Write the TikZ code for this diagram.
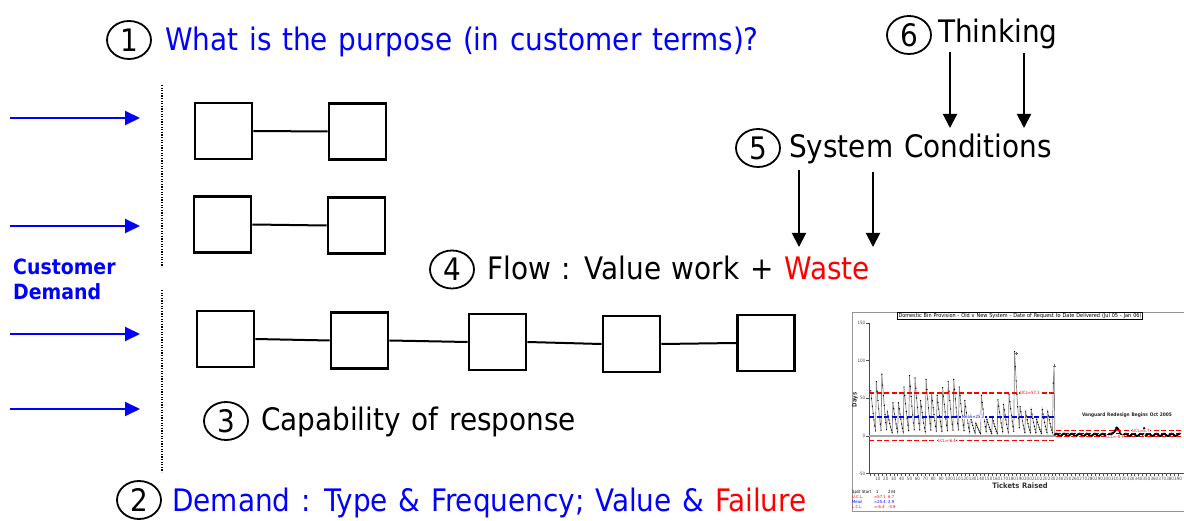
\documentclass[tikz,border=0pt]{standalone}
\usepackage{fontspec}
\setmainfont{DejaVu Sans Condensed}[WordSpace=1.22]
\usetikzlibrary{arrows.meta,shapes.geometric}
\definecolor{dblue}{RGB}{0,0,255}
\definecolor{dred}{RGB}{255,0,0}
\definecolor{framegray}{RGB}{150,150,150}
\definecolor{linegray}{RGB}{135,135,135}
% peaks of the old-system run chart (one tooth every seven tickets)
\def\peaks{58,70,80,30,42,42,63,78,75,45,73,55,52,62,70,73,63,45,25,15,52,20,22,46,40,53,110,37,30,33,20,33,30}
\begin{document}
\begin{tikzpicture}[x=1pt,y=-1pt,
  num/.style={draw, ellipse, line width=1.8pt, minimum width=44pt, minimum height=38pt,
    inner sep=0pt, font=\fontsize{31}{36}\selectfont},
  lbl/.style={anchor=base west, inner sep=0pt, font=\fontsize{31}{36}\selectfont},
  cust/.style={anchor=base west, inner sep=0pt, text=dblue, font=\fontsize{21}{25}\selectfont\bfseries},
  demand/.style={-{Triangle[length=15pt,width=14pt]}, line width=2pt, dblue},
  down/.style={-{Triangle[length=14pt,width=14pt]}, line width=2pt, black},
  stepbox/.style={draw, line width=2.6pt, minimum width=57pt, minimum height=56pt, inner sep=0pt},
  link/.style={line width=2pt},
  divider/.style={line width=1.4pt, dash pattern=on 1.3pt off 1.3pt},
  tick/.style={inner sep=0pt, font=\fontsize{4.5}{5}\selectfont, text=black!70},
  ctl/.style={line width=1.1pt, dash pattern=on 5pt off 2.5pt},
  ctllbl/.style={inner sep=0.4pt, fill=white, font=\fontsize{4.3}{5}\selectfont},
  leg/.style={anchor=base west, inner sep=0pt, font=\fontsize{4.2}{5}\selectfont},
  dataline/.style={linegray, line width=0.7pt},
]
\useasboundingbox (0,0) rectangle (1184,521);
\fill[white] (0,0) rectangle (1184,521);

% ---- customer demand arriving at the system ----
\coordinate (da1) at (10,118);  \coordinate (db1) at (140,118);
\coordinate (da2) at (10,226);  \coordinate (db2) at (140,226);
\coordinate (da3) at (10,334);  \coordinate (db3) at (140,334);
\coordinate (da4) at (10,409);  \coordinate (db4) at (140,409);
\draw[demand] (da1) -- (db1);
\draw[demand] (da2) -- (db2);
\draw[demand] (da3) -- (db3);
\draw[demand] (da4) -- (db4);
\node[cust] (cust1) at (13,275) {Customer};
\node[cust] (cust2) at (13,300) {Demand};

\coordinate (v1a) at (162,85);  \coordinate (v1b) at (162,267);
\coordinate (v2a) at (162,290); \coordinate (v2b) at (162,472);
\draw[divider] (v1a) -- (v1b);
\draw[divider] (v2a) -- (v2b);

% ---- process steps ----
\node[stepbox] (b11) at (223.5,131) {};
\node[stepbox] (b12) at (357.5,131.5) {};
\draw[link] (b11.east) -- (b12.west);

\node[stepbox] (b21) at (222.5,224.5) {};
\node[stepbox] (b22) at (356.5,225.5) {};
\draw[link] (b21.east) -- (b22.west);

\node[stepbox] (b31) at (225.5,339) {};
\node[stepbox] (b32) at (359.5,340.5) {};
\node[stepbox] (b33) at (497.5,342) {};
\node[stepbox] (b34) at (631.5,344) {};
\node[stepbox] (b35) at (766,343) {};
\draw[link] (b31.east) -- (b32.west);
\draw[link] (b32.east) -- (b33.west);
\draw[link] (b33.east) -- (b34.west);
\draw[link] (b34.east) -- (b35.west);

% ---- numbered headings ----
\node[num] (n1) at (129,40) {1};
\node[lbl, text=dblue] (t1) at (165,51) {What is the purpose (in customer terms)?};

\node[num] (n6) at (909,35) {6};
\node[lbl] (t6) at (938,43) {Thinking};

\node[num] (n5) at (758,148) {5};
\node[lbl] (t5) at (789,158) {System Conditions};

\node[num] (n4) at (452,269.5) {4};
\node[lbl] (t4) at (487,280) {Flow : Value work + \textcolor{dred}{Waste}};

\node[num] (n3) at (226,421) {3};
\node[lbl] (t3) at (261,431) {Capability of response};

\node[num] (n2) at (139,500) {2};
\node[lbl, text=dblue] (t2) at (172,511) {Demand : Type \& Frequency; Value \& \textcolor{dred}{Failure}};

% thinking drives system conditions, which drive waste
\coordinate (ta) at (950,52);   \coordinate (tb) at (950,128);
\coordinate (tc) at (1024,53);  \coordinate (td) at (1024,128);
\coordinate (sa) at (799,170);  \coordinate (sb) at (799,247);
\coordinate (sc) at (873,172);  \coordinate (sd) at (873,247);
\draw[down] (ta) -- (tb);
\draw[down] (tc) -- (td);
\draw[down] (sa) -- (sb);
\draw[down] (sc) -- (sd);

% ---- run chart ----
\draw[framegray, line width=0.9pt] (1184,312) -- (852,312) -- (852,511) -- (1184,511);
\node[draw, line width=0.6pt, inner sep=0.8pt, anchor=north, font=\fontsize{5.5}{6}\selectfont]
  (ctitle) at (1020,312.5)
  {Domestic Bin Provision - Old v New System - Date of Request to Date Delivered (Jul 05 - Jan 06)};

% axes
\draw[black!70, line width=0.6pt] (869,322.9) -- (869,473.7) -- (1184,473.7);
\foreach \v in {150,100,50,0,-50}{
  \draw[black!70, line width=0.5pt] (866,{436-0.754*\v}) -- (869,{436-0.754*\v});
  \node[tick, anchor=east] at (865.5,{436-0.754*\v}) {\v};
}
\foreach \t in {0,5,...,390}{
  \draw[black!70, line width=0.4pt] ({870+0.79*\t},473.7) -- ({870+0.79*\t},475.5);
}
\foreach \t in {10,20,...,390}{
  \node[tick, anchor=north] at ({870+0.79*\t},477) {\t};
}
\node[inner sep=0pt, font=\fontsize{7.5}{8}\selectfont\bfseries, text=black!80] (xlab) at (1020,485.5) {Tickets Raised};
\node[inner sep=0pt, rotate=90, font=\fontsize{6}{7}\selectfont\bfseries, text=black!80] (ylab) at (855,400) {Days};

% centre line at zero
\draw[black!35, line width=1.2pt] (869,436) -- (1056,436);

% old system data
\draw[dataline] (870.79,{436-0.754*60})
  \foreach \p [count=\k from 0] in \peaks {
    \foreach \j in {0,...,6} {
      -- ({870.79+0.79*(7*\k+\j)},{436-0.754*(\p*(1-\j/7)^1.3+2)})
    }
  }
  -- ({870+0.79*232},{436-0.754*70}) -- ({870+0.79*233},{436-0.754*93})
  -- ({870+0.79*234},{436-0.754*2});
\foreach \p [count=\k from 0] in \peaks {
  \foreach \j in {0,...,6} {
    \fill ({870.79+0.79*(7*\k+\j)},{436-0.754*(\p*(1-\j/7)^1.3+2)}) circle (0.7);
  }
}
\fill ({870+0.79*232},{436-0.754*70}) circle (0.7);
\draw[black!60, line width=0.5pt] ({870+0.79*185-1.5},{436-0.754*110}) -- ++(3,0)
  ({870+0.79*185},{436-0.754*110-1.5}) -- ++(0,3);
\draw[black!60, line width=0.5pt] ({870+0.79*233-1.5},{436-0.754*93}) -- ++(3,0)
  ({870+0.79*233},{436-0.754*93-1.5}) -- ++(0,3);

% new system data
\draw[dataline] plot[domain=234:392, samples=159, mark=*, mark size=0.7pt,
    mark options={black, fill=black}]
  ({870+0.79*\x},{436-0.754*(1.5+1.5*sin(\x*37)+max(0,9-1.3*abs(\x-312))+max(0,10-5*abs(\x-347)))});

% control limits, old system
\draw[ctl, dred] (869,393) -- (1056,393);
\draw[ctl, dblue] (869,417) -- (1056,417);
\draw[ctl, dred] (869,440.8) -- (1056,440.8);
\node[ctllbl, text=dred] (ucl1) at (1030,393) {UCL=57.1};
\node[ctllbl, text=dblue] (mean1) at (973,417) {Mean=25.3};
\node[ctllbl, text=dred] (lcl1) at (947,440.8) {LCL=-6.4};

% control limits, new system
\draw[ctl, dred] (1056,430.9) -- (1182,430.9);
\draw[ctl, dblue] (1056,433.8) -- (1182,433.8);
\draw[ctl, dred] (1056,436.7) -- (1182,436.7);
\node[ctllbl, text=dred] (ucl2) at (1141,430.9) {UCL=6.7};
\node[ctllbl, text=dred] (lcl2) at (1115,437) {LCL=-0.9};

\node[inner sep=0pt, font=\fontsize{4.8}{6}\selectfont\bfseries, text=black!85] (vg) at (1127,415)
  {Vanguard Redesign Begins Oct 2005};

% legend
\node[leg] (lg1) at (852,493) {Split Start};
\node[leg] (lg1a) at (876,493) {1};
\node[leg] (lg1b) at (888,493) {234};
\node[leg, text=dred] (lg2) at (852,498) {U.C.L.};
\node[leg, text=dred] (lg2a) at (874,498) {=57.1};
\node[leg, text=dred] (lg2b) at (888,498) {6.7};
\node[leg, text=dblue] (lg3) at (852,503) {Mean};
\node[leg, text=dblue] (lg3a) at (874,503) {=25.4};
\node[leg, text=dblue] (lg3b) at (888,503) {2.9};
\node[leg, text=dred] (lg4) at (852,508) {L.C.L.};
\node[leg, text=dred] (lg4a) at (874,508) {=-6.4};
\node[leg, text=dred] (lg4b) at (888,508) {-0.9};
\end{tikzpicture}
\end{document}
